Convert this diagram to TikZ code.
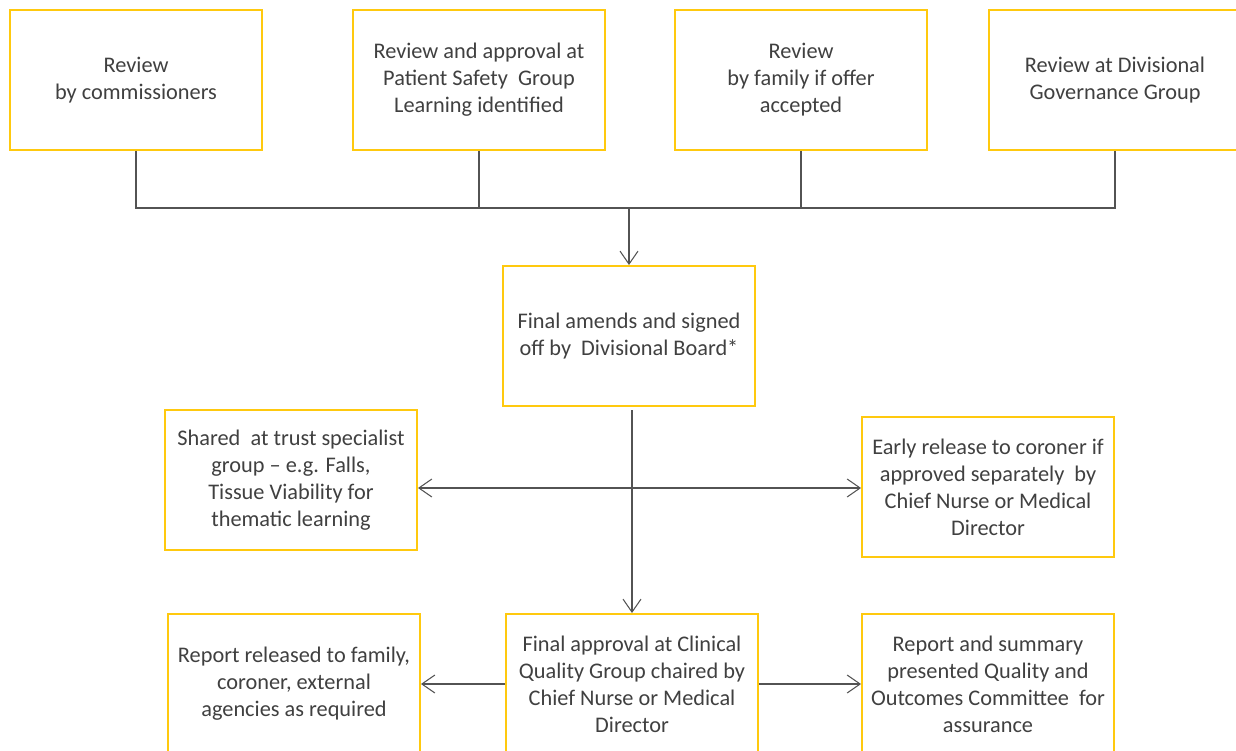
\documentclass[tikz,border=0pt]{standalone}
\usepackage{fontspec}
\setmainfont{Carlito}
\usetikzlibrary{arrows.meta, positioning}
\usepackage{xcolor}
\definecolor{boxyellow}{HTML}{FFC90E}
\definecolor{inkgrey}{HTML}{404040}

\begin{document}
\begin{tikzpicture}[
    thick,
    stage box/.style={rectangle, draw=boxyellow, line width=1.1pt, fill=white,
        minimum width=5.04cm, minimum height=2.8cm, align=center,
        text=inkgrey, font=\fontsize{12.7}{15.4}\selectfont},
    link/.style={draw=inkgrey!90, line width=0.6pt},
    flow/.style={link, -{Straight Barb[length=2.6mm, width=3.6mm]}},
    both flow/.style={link, {Straight Barb[length=2.6mm, width=3.6mm]}-{Straight Barb[length=2.6mm, width=3.6mm]}}
]
    \clip (0,0) rectangle (24.72,-15.02);

    % Nodes
    \node[stage box] (commish) at (2.72, -1.6) {Review\\by commissioners};
    \node[stage box] (psg) at (9.58, -1.6) {Review and approval at\\Patient Safety\ \ Group\\Learning identified};
    \node[stage box] (family) at (16.02, -1.6) {Review\\by family if offer\\accepted};
    \node[stage box] (divgov) at (22.3, -1.6) {Review at Divisional\\Governance Group};

    \node[stage box] (board) at (12.58, -6.72) {Final amends and signed\\off by\ \ Divisional Board*};

    \node[stage box] (shared) at (5.82, -9.6) {Shared\ \ at trust specialist\\group -- e.g. Falls,\\Tissue Viability for\\thematic learning};
    \node[stage box] (early) at (19.76, -9.74) {Early release to coroner if\\approved separately\ \ by\\Chief Nurse or Medical\\Director};

    \node[stage box] (cqg) at (12.64, -13.68) {Final approval at Clinical\\Quality Group chaired by\\Chief Nurse or Medical\\Director};
    \node[stage box] (released) at (5.88, -13.68) {Report released to family,\\coroner, external\\agencies as required};
    \node[stage box] (qoc) at (19.76, -13.68) {Report and summary\\presented Quality and\\Outcomes Committee\ \ for\\assurance};

    \coordinate (bus) at (12.58, -4.16);
    \coordinate (cross) at (12.64, -9.76);

    % Edges
    \draw[link] (commish.south) |- (bus) -| (divgov.south);
    \draw[link] (psg.south) -- (psg.south |- bus);
    \draw[link] (family.south) -- (family.south |- bus);
    \draw[flow] (bus) -- (board.north);
    \draw[flow, shorten <=2pt] (board.south -| cqg.north) -- (cqg.north);
    \draw[both flow] (shared.east |- cross) -- (early.west |- cross);
    \draw[flow] (cqg.west) -- (released.east);
    \draw[flow] (cqg.east) -- (qoc.west);
\end{tikzpicture}
\end{document}
